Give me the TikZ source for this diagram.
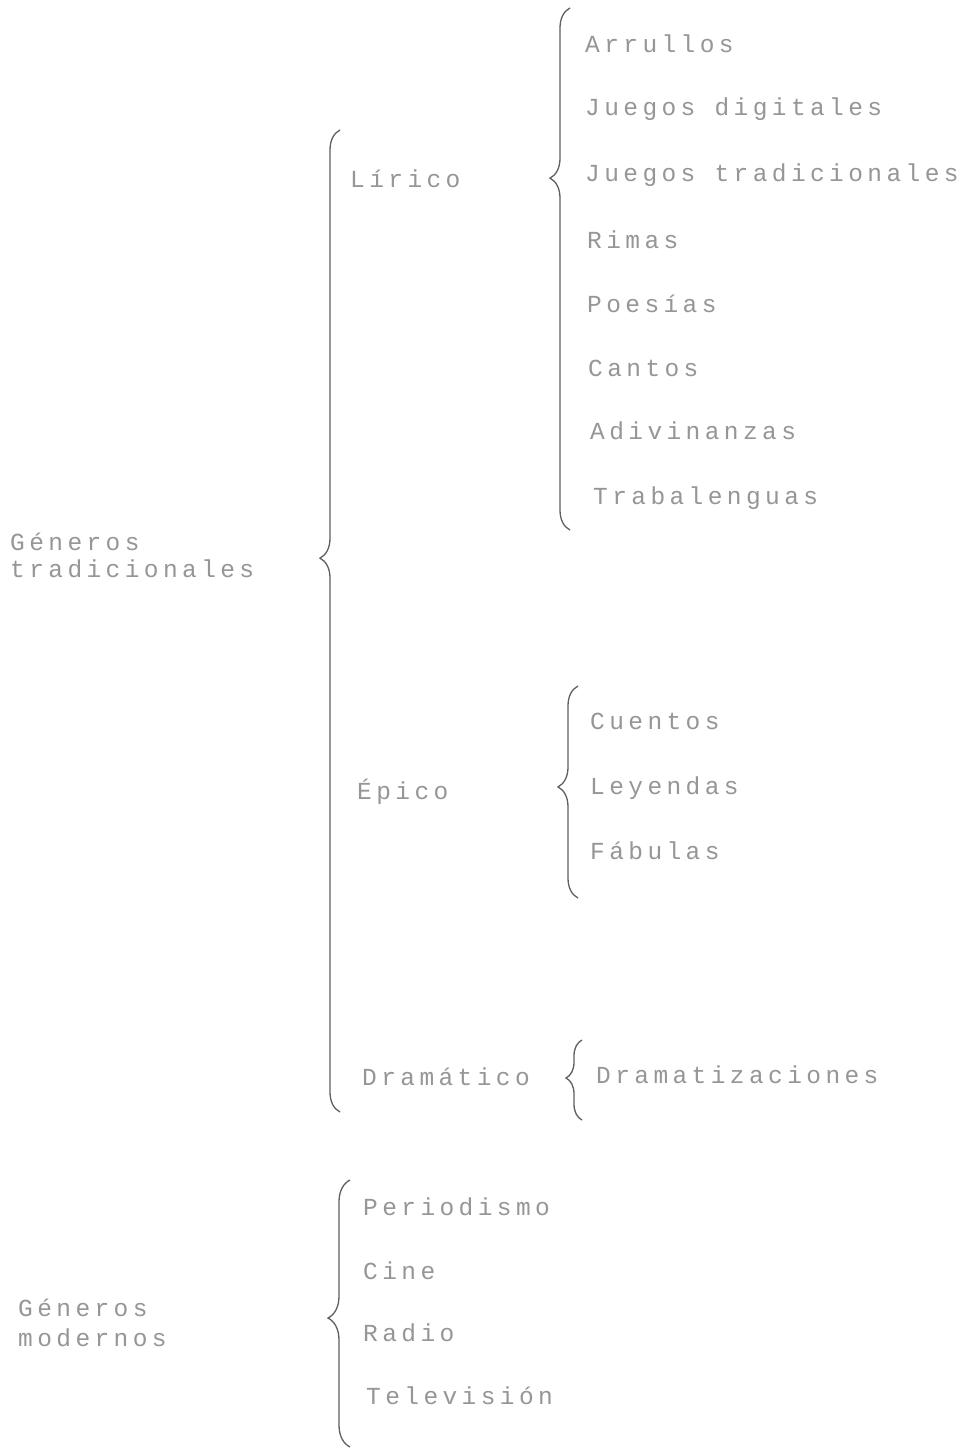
\documentclass[tikz,border=0pt]{standalone}
\usepackage{fontspec}
\usetikzlibrary{decorations.pathreplacing}
\newfontfamily\tw[LetterSpace=18]{Liberation Mono}
\definecolor{ink}{RGB}{150,150,150}
\definecolor{bracecol}{RGB}{95,95,95}
\begin{document}
\begin{tikzpicture}[x=1pt,y=-1pt,
  lbl/.style={font=\tw\fontsize{24.5}{28}\selectfont, text=ink, inner sep=0pt, anchor=mid west, yshift=-5pt},
  grp/.style={font=\tw\fontsize{24.5}{#1}\selectfont, text=ink, inner sep=0pt, anchor=west, align=left},
  bracestyle/.style 2 args={draw=bracecol, line width=1.3pt, decorate,
     decoration={brace, amplitude=#1, aspect=#2}}]
\fill[white] (0,0) rectangle (977,1453);
\useasboundingbox (0,0) rectangle (977,1453);

% top-level labels
\node[grp=27] (trad) at (10,555) {Géneros\\tradicionales};
\node[grp=30] (mod) at (18,1323) {Géneros\\modernos};

% second level
\node[lbl] (lir) at (350,180) {Lírico};
\node[lbl] (epi) at (357,792) {Épico};
\node[lbl] (dra) at (362,1078) {Dramático};

% Lirico items
\node[lbl] (l1) at (585,45) {Arrullos};
\node[lbl] (l2) at (585,108) {Juegos digitales};
\node[lbl] (l3) at (585,174) {Juegos tradicionales};
\node[lbl] (l4) at (587,241) {Rimas};
\node[lbl] (l5) at (587,305) {Poesías};
\node[lbl] (l6) at (588,369) {Cantos};
\node[lbl] (l7) at (590,432) {Adivinanzas};
\node[lbl] (l8) at (593,497) {Trabalenguas};

% Epico items
\node[lbl] (e1) at (590,722) {Cuentos};
\node[lbl] (e2) at (590,787) {Leyendas};
\node[lbl] (e3) at (590,852) {Fábulas};

% Dramatico item
\node[lbl] (d1) at (596,1076) {Dramatizaciones};

% Modern items
\node[lbl] (m1) at (363,1208) {Periodismo};
\node[lbl] (m2) at (363,1272) {Cine};
\node[lbl] (m3) at (363,1334) {Radio};
\node[lbl] (m4) at (366,1397) {Televisión};

% brace end points
\coordinate (tradT) at (340,130);
\coordinate (tradB) at (340,1112);
\coordinate (lirT) at (570,8);
\coordinate (lirB) at (570,530);
\coordinate (epiT) at (578,686);
\coordinate (epiB) at (578,898);
\coordinate (draT) at (582,1040);
\coordinate (draB) at (582,1120);
\coordinate (modT) at (350,1180);
\coordinate (modB) at (350,1447);

\draw[bracestyle={20pt}{0.564}] (tradB) -- (tradT);
\draw[bracestyle={20pt}{0.674}] (lirB) -- (lirT);
\draw[bracestyle={20pt}{0.524}] (epiB) -- (epiT);
\draw[bracestyle={16pt}{0.525}] (draB) -- (draT);
\draw[bracestyle={22pt}{0.483}] (modB) -- (modT);
\end{tikzpicture}
\end{document}
